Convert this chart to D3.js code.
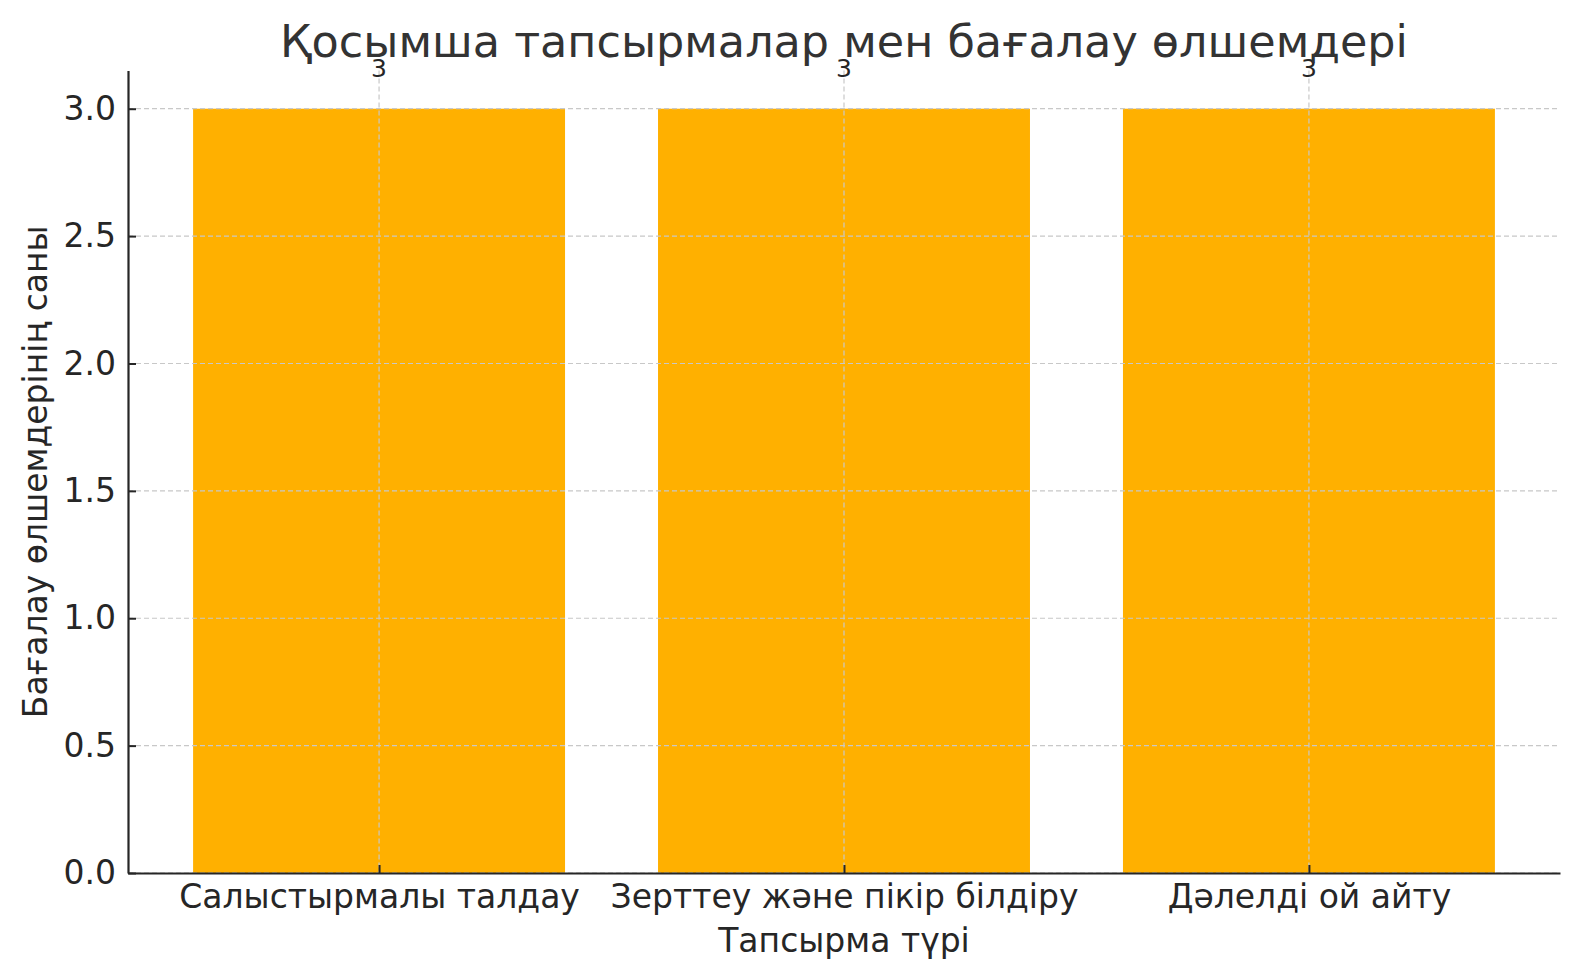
<!DOCTYPE html>
<html>
<head>
<meta charset="utf-8">
<script src="https://cdn.jsdelivr.net/npm/d3@7"></script>
<style>
  body { margin: 0; background: #fff; }
  svg { display: block; font-family: "DejaVu Sans", sans-serif; }
</style>
</head>
<body>
<div id="chart"></div>
<script>
// chart data
const categories = ["Салыстырмалы талдау", "Зерттеу және пікір білдіру", "Дәлелді ой айту"];
const counts = [3, 3, 3];
const yTicks = [0, 0.5, 1.0, 1.5, 2.0, 2.5, 3.0];

const titleText = "Қосымша тапсырмалар мен бағалау өлшемдері";
const xLabel = "Тапсырма түрі";
const yLabel = "Бағалау өлшемдерінің саны";

const width = 1580, height = 980;
const margin = { top: 70.5, right: 20, bottom: 107, left: 128 };
const ink = "#262626";

const svg = d3.select("#chart").append("svg")
    .attr("width", width)
    .attr("height", height);

const x = d3.scaleLinear()
    .domain([-0.54, categories.length - 1 + 0.54])
    .range([margin.left, width - margin.right]);

const y = d3.scaleLinear()
    .domain([0, 3.15])
    .range([height - margin.bottom, margin.top]);

const barW = x(0.8) - x(0);

// horizontal grid lines
const grid = svg.append("g");
grid.selectAll(".hgrid")
    .data(yTicks)
    .enter()
    .append("line")
    .attr("x1", margin.left)
    .attr("x2", width - margin.right)
    .attr("y1", d => y(d))
    .attr("y2", d => y(d))
    .style("stroke", "#c8c8c8")
    .style("stroke-width", 1.2)
    .style("stroke-dasharray", "5,3");

// bars
svg.selectAll(".bar")
    .data(counts)
    .enter()
    .append("rect")
    .attr("x", (d, i) => x(i) - barW / 2)
    .attr("y", d => y(d))
    .attr("width", barW)
    .attr("height", d => y(0) - y(d))
    .style("fill", "#ffb000");

// grid sits over the bars, like the original
grid.raise();
grid.selectAll(".vgrid")
    .data(categories)
    .enter()
    .append("line")
    .attr("x1", (d, i) => x(i))
    .attr("x2", (d, i) => x(i))
    .attr("y1", margin.top)
    .attr("y2", height - margin.bottom)
    .style("stroke", "#c8c8c8")
    .style("stroke-width", 1.2)
    .style("stroke-dasharray", "5,3");

// value labels
svg.selectAll(".val")
    .data(counts)
    .enter()
    .append("text")
    .attr("x", (d, i) => x(i))
    .attr("y", d => y(d) - 32)
    .attr("text-anchor", "middle")
    .style("font-size", "25px")
    .style("fill", ink)
    .text(d => d);

// axes
const yAxis = d3.axisLeft(y)
    .tickValues(yTicks)
    .tickFormat(d3.format(".1f"))
    .tickSizeInner(-8)
    .tickSizeOuter(0)
    .tickPadding(12);

const xAxis = d3.axisBottom(x)
    .tickValues(d3.range(categories.length))
    .tickFormat(i => categories[i])
    .tickSizeInner(-8)
    .tickSizeOuter(0)
    .tickPadding(12);

const gy = svg.append("g")
    .attr("transform", `translate(${margin.left},0)`)
    .call(yAxis);

const gx = svg.append("g")
    .attr("transform", `translate(0,${height - margin.bottom})`)
    .call(xAxis);

[gx, gy].forEach(g => {
    g.select(".domain").style("stroke", ink).style("stroke-width", 2.2);
    g.selectAll(".tick line").style("stroke", ink).style("stroke-width", 2);
    g.selectAll(".tick text")
        .style("font-size", "33px")
        .style("font-family", "DejaVu Sans, sans-serif")
        .style("fill", ink);
});

// title and axis labels
svg.append("text")
    .attr("x", (margin.left + width - margin.right) / 2)
    .attr("y", 57)
    .attr("text-anchor", "middle")
    .style("font-size", "44.5px")
    .style("fill", "#333")
    .text(titleText);

svg.append("text")
    .attr("x", (margin.left + width - margin.right) / 2)
    .attr("y", 952)
    .attr("text-anchor", "middle")
    .style("font-size", "33px")
    .style("fill", ink)
    .text(xLabel);

svg.append("text")
    .attr("transform", `translate(47,${(margin.top + height - margin.bottom) / 2}) rotate(-90)`)
    .attr("text-anchor", "middle")
    .style("font-size", "33px")
    .style("fill", ink)
    .text(yLabel);
</script>
</body>
</html>
